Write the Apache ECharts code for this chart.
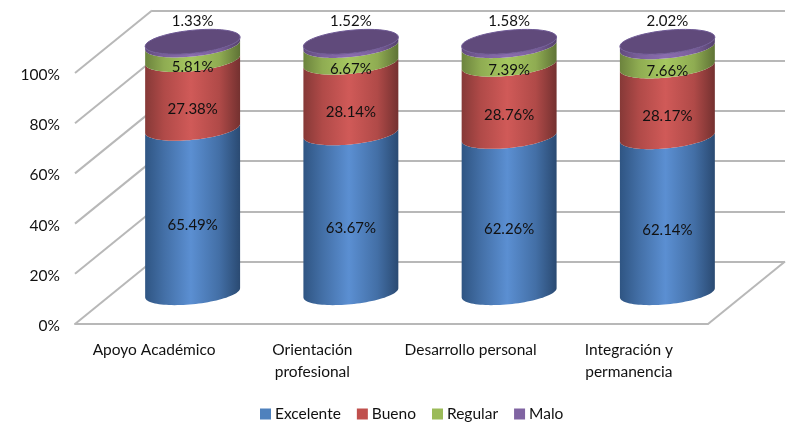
<!DOCTYPE html>
<html>
<head>
<meta charset="utf-8">
<style>
html, body { margin: 0; padding: 0; background: #fff; }
#main { width: 788px; height: 424px; }
</style>
<script src="https://cdn.jsdelivr.net/npm/echarts@6/dist/echarts.min.js"></script>
</head>
<body>
<div id="main"></div>
<script>
var categories = ['Apoyo Académico', 'Orientación\nprofesional', 'Desarrollo personal', 'Integración y\npermanencia'];
var excelente = [65.49, 63.67, 62.26, 62.14];
var bueno = [27.38, 28.14, 28.76, 28.17];
var regular = [5.81, 6.67, 7.39, 7.66];
var malo = [1.33, 1.52, 1.58, 2.02];
var yTicks = [0, 20, 40, 60, 80, 100];

var font = 'Lato, Carlito, sans-serif';
var depthX = 77, depthY = -62.5;   // back wall offset from the front plane
var wallColor = '#b8b8b8';

function grad(dark, mid, light, darker) {
    return new echarts.graphic.LinearGradient(0, 0, 1, 0, [
        { offset: 0, color: dark },
        { offset: 0.2, color: mid },
        { offset: 0.48, color: light },
        { offset: 0.78, color: mid },
        { offset: 1, color: darker }
    ]);
}

function arc(cx, cy, a, from, to) {
    var pts = [], n = 48;
    for (var i = 0; i <= n; i++) {
        var t = from + (to - from) * i / n;
        pts.push([cx + a * Math.cos(t), cy + 11.5 * Math.sin(t) - 4.6 * Math.cos(t)]);
    }
    return pts;
}

function cylinder(name, values, below, colors, isTop) {
    var data = values.map(function (v, i) {
        return [i, below[i], below[i] + v, v];
    });
    return {
        name: name,
        type: 'custom',
        xAxisIndex: 0,
        yAxisIndex: 0,
        z: 5,
        itemStyle: { color: colors.swatch },
        encode: { x: 0, y: [1, 2] },
        data: data,
        renderItem: function (params, api) {
            var a = api.size([1, 0])[0] * 0.3;
            var p0 = api.coord([api.value(0), api.value(1)]);
            var p1 = api.coord([api.value(0), api.value(2)]);
            var cx = p0[0] + depthX / 2;
            var y0 = p0[1] + depthY / 2;
            var y1 = p1[1] + depthY / 2;
            var children = [{
                type: 'polygon',
                shape: { points: arc(cx, y0, a, 0, Math.PI).concat(arc(cx, y1, a, Math.PI, 0)) },
                style: { fill: grad(colors.dark, colors.mid, colors.light, colors.darker) }
            }];
            if (isTop) {
                children.push({
                    type: 'polygon',
                    shape: { points: arc(cx, y1, a, 0, Math.PI * 2) },
                    style: { fill: colors.lid, stroke: colors.rim, lineWidth: 1 }
                });
            }
            children.push({
                type: 'text',
                z2: 10,
                style: {
                    text: api.value(3).toFixed(2) + '%',
                    x: cx,
                    y: isTop ? y1 - 21 : (y0 + y1) / 2 + 15,
                    align: 'center',
                    verticalAlign: 'middle',
                    fontFamily: font,
                    fontSize: 15,
                    fill: '#111'
                }
            });
            return { type: 'group', children: children };
        }
    };
}

function addUp(a, b) {
    return a.map(function (v, i) { return v + b[i]; });
}

var zero = [0, 0, 0, 0];
var upToBueno = addUp(excelente, bueno);
var upToRegular = addUp(upToBueno, regular);

var myChart = echarts.init(document.getElementById('main'), null, { renderer: 'canvas' });
myChart.setOption({
    animation: false,
    backgroundColor: '#fff',
    grid: [
        { left: 75, top: 73, width: 633, height: 251 },
        { left: 75 + depthX, top: 73 + depthY, width: 633, height: 251 }
    ],
    xAxis: [
        {
            type: 'category',
            gridIndex: 0,
            data: categories,
            axisLine: { lineStyle: { color: wallColor, width: 2 } },
            axisTick: { show: false },
            axisLabel: { color: '#111', fontFamily: font, fontSize: 15.5, lineHeight: 22, margin: 15, interval: 0 }
        },
        { type: 'category', gridIndex: 1, data: categories, show: false }
    ],
    yAxis: [
        {
            type: 'value',
            gridIndex: 0,
            min: 0,
            max: 100,
            interval: 20,
            axisLine: { show: false },
            axisTick: { show: false },
            splitLine: { show: false },
            axisLabel: {
                formatter: '{t|{value}%}',
                margin: 15,
                rich: { t: { color: '#111', fontFamily: font, fontSize: 15.5, padding: [4, 0, 0, 0] } }
            }
        },
        {
            type: 'value',
            gridIndex: 1,
            min: 0,
            max: 100,
            interval: 20,
            axisLine: { show: false },
            axisTick: { show: false },
            axisLabel: { show: false },
            splitLine: { lineStyle: { color: wallColor, width: 2 } }
        }
    ],
    legend: {
        data: ['Excelente', 'Bueno', 'Regular', 'Malo'],
        left: 255,
        top: 401,
        icon: 'rect',
        itemWidth: 11,
        itemHeight: 11,
        itemGap: 16,
        textStyle: { color: '#111', fontFamily: font, fontSize: 15.5, padding: [0, 0, 0, -1] }
    },
    series: [
        {
            // side wall diagonals and the right edge of the floor
            type: 'custom',
            xAxisIndex: 0,
            yAxisIndex: 0,
            silent: true,
            z: 1,
            encode: { y: 1 },
            data: yTicks.map(function (t) { return [0, t]; }),
            renderItem: function (params, api) {
                var x = params.coordSys.x;
                var y = api.coord([0, api.value(1)])[1];
                var lines = [{
                    type: 'line',
                    shape: { x1: x, y1: y, x2: x + depthX, y2: y + depthY },
                    style: { stroke: wallColor, lineWidth: 2 }
                }];
                if (api.value(1) === 0) {
                    var xr = x + params.coordSys.width;
                    lines.push({
                        type: 'line',
                        shape: { x1: xr, y1: y, x2: xr + depthX, y2: y + depthY },
                        style: { stroke: wallColor, lineWidth: 2 }
                    });
                }
                return { type: 'group', children: lines };
            }
        },
        cylinder('Excelente', excelente, zero, { swatch: '#4f81bd', dark: '#2f5583', mid: '#436fa6', light: '#5b8fd2', darker: '#2a4a72' }),
        cylinder('Bueno', bueno, excelente, { swatch: '#c0504d', dark: '#863937', mid: '#b04a48', light: '#d05a58', darker: '#743130' }),
        cylinder('Regular', regular, upToBueno, { swatch: '#9bbb59', dark: '#6c833d', mid: '#8fac52', light: '#a6c860', darker: '#5f7336' }),
        cylinder('Malo', malo, upToRegular, { swatch: '#8064a2', dark: '#614b7c', mid: '#7a5f9b', light: '#8a6dae', darker: '#54416b', lid: '#604a7b', rim: '#6f5a95' }, true)
    ]
});
</script>
</body>
</html>
